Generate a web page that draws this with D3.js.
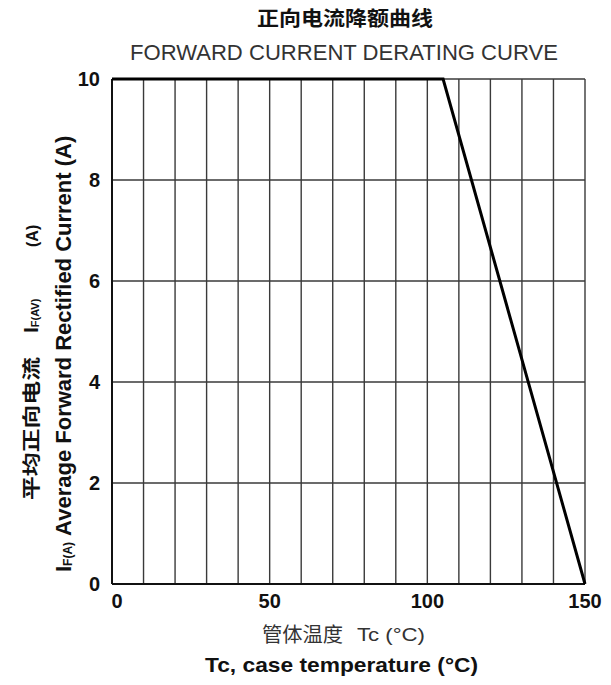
<!DOCTYPE html>
<html lang="zh">
<head>
<meta charset="utf-8">
<title>Forward Current Derating Curve</title>
<script src="https://d3js.org/d3.v7.min.js"></script>
<style>
  body { margin: 0; background: #fff; }
  svg text { font-family: "Liberation Sans", Arial, "Noto Sans CJK SC", sans-serif; fill: #111; }
  .grid line { stroke: #3a3a3a; stroke-width: 1.4; }
  .tick-label { font-weight: bold; font-size: 20px; }
  .cjk { font-family: "Noto Sans CJK SC", sans-serif; }
</style>
</head>
<body>
<script>
// chart data
const xTicks = [0, 50, 100, 150];
const yTicks = [0, 2, 4, 6, 8, 10];
const xGrid = [10, 20, 30, 40, 50, 60, 70, 80, 90, 100, 110, 120, 130, 140, 150];
const yGrid = [2, 4, 6, 8, 10];
const tempC = [0, 105, 150];
const currentA = [10, 10, 0];

const W = 611, H = 685;
const margin = { left: 112, right: 26, top: 79, bottom: 101 };

const svg = d3.select("body").append("svg")
  .attr("width", W)
  .attr("height", H);

const x = d3.scaleLinear().domain([0, 150]).range([margin.left, W - margin.right]);
const y = d3.scaleLinear().domain([0, 10]).range([H - margin.bottom, margin.top]);

// grid
const grid = svg.append("g").attr("class", "grid");
grid.selectAll("line.v")
  .data(xGrid)
  .enter().append("line")
  .attr("class", "v")
  .attr("x1", d => x(d)).attr("x2", d => x(d))
  .attr("y1", y(0)).attr("y2", y(10));
grid.selectAll("line.h")
  .data(yGrid)
  .enter().append("line")
  .attr("class", "h")
  .attr("x1", x(0)).attr("x2", x(150))
  .attr("y1", d => y(d)).attr("y2", d => y(d));

// axis lines
svg.append("line")
  .attr("x1", x(0)).attr("x2", x(0))
  .attr("y1", y(0)).attr("y2", y(10))
  .attr("stroke", "#111").attr("stroke-width", 2);
svg.append("line")
  .attr("x1", x(0)).attr("x2", x(150))
  .attr("y1", y(0)).attr("y2", y(0))
  .attr("stroke", "#111").attr("stroke-width", 2);

// derating curve
const line = d3.line()
  .x((d, i) => x(tempC[i]))
  .y(d => y(d));
svg.append("path")
  .datum(currentA)
  .attr("d", line)
  .attr("fill", "none")
  .attr("stroke", "#000")
  .attr("stroke-width", 3);

// tick labels
svg.selectAll("text.yt")
  .data(yTicks)
  .enter().append("text")
  .attr("class", "tick-label yt")
  .attr("x", 100)
  .attr("y", d => y(d) + 7)
  .attr("text-anchor", "end")
  .text(d => d);

svg.selectAll("text.xt")
  .data(xTicks)
  .enter().append("text")
  .attr("class", "tick-label xt")
  .attr("x", d => x(d) + (d === 0 ? 5 : 0))
  .attr("y", 608)
  .attr("text-anchor", "middle")
  .text(d => d);

// titles
svg.append("text")
  .attr("class", "cjk")
  .attr("x", 345).attr("y", 26)
  .attr("text-anchor", "middle")
  .attr("font-size", 20).attr("font-weight", "bold")
  .attr("textLength", 176).attr("lengthAdjust", "spacingAndGlyphs")
  .text("正向电流降额曲线");
svg.append("text")
  .attr("x", 344).attr("y", 60)
  .attr("text-anchor", "middle")
  .attr("font-size", 22).style("fill", "#333")
  .attr("textLength", 428).attr("lengthAdjust", "spacingAndGlyphs")
  .text("FORWARD CURRENT DERATING CURVE");

// x labels
svg.append("text")
  .attr("class", "cjk")
  .attr("x", 262).attr("y", 642)
  .attr("font-size", 20).style("fill", "#333")
  .attr("textLength", 81).attr("lengthAdjust", "spacingAndGlyphs")
  .text("管体温度");
svg.append("text")
  .attr("x", 357).attr("y", 641)
  .attr("font-size", 19).style("fill", "#333")
  .attr("textLength", 68).attr("lengthAdjust", "spacingAndGlyphs")
  .text("Tc (°C)");

svg.append("text")
  .attr("x", 205).attr("y", 672)
  .attr("font-size", 21).attr("font-weight", "bold")
  .attr("textLength", 273).attr("lengthAdjust", "spacingAndGlyphs")
  .text("Tc, case  temperature (°C)");

// y labels (rotated)
const yl1 = svg.append("g").attr("transform", "translate(38,0) rotate(-90)");
yl1.append("text")
  .attr("class", "cjk")
  .attr("x", -500).attr("y", 0)
  .attr("font-size", 18).attr("font-weight", "bold")
  .attr("textLength", 143).attr("lengthAdjust", "spacingAndGlyphs")
  .text("平均正向电流");
const ifav = yl1.append("text")
  .attr("x", -333).attr("y", 0)
  .attr("font-size", 21).attr("font-weight", "bold");
ifav.append("tspan").text("I");
ifav.append("tspan").attr("font-size", 11).attr("dy", 1).text("F(AV)");
yl1.append("text")
  .attr("x", -247).attr("y", 0)
  .attr("font-size", 16).attr("font-weight", "bold")
  .text("(A)");

const yl2 = svg.append("text")
  .attr("transform", "translate(71,572) rotate(-90)")
  .attr("font-size", 22).attr("font-weight", "bold");
yl2.append("tspan").text("I");
yl2.append("tspan").attr("font-size", 12).attr("dy", 1).text("F(A)");
yl2.append("tspan").attr("dy", -1).attr("dx", 6).text("Average Forward Rectified Current (A)");
</script>
</body>
</html>
